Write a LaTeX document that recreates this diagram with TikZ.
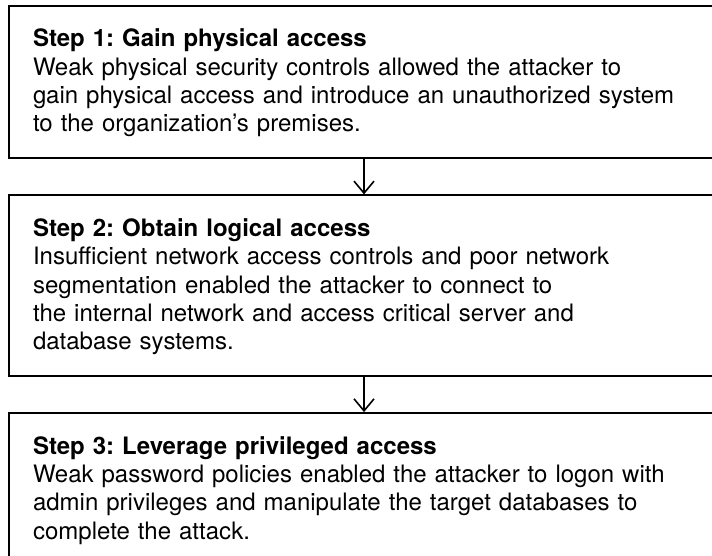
\documentclass[tikz,border=0pt]{standalone}
\usepackage{fontspec}
\setmainfont{TeX Gyre Heros}
\usetikzlibrary{positioning,arrows.meta}
\frenchspacing

\newcommand{\headgap}{\rule{0pt}{41pt}}
\newcommand{\footgap}{\rule[-26pt]{0pt}{26pt}}

\begin{document}
\begin{tikzpicture}[->, >={Straight Barb[length=12pt,width=20pt]}, node distance=35.5pt,
  stepbox/.style={rectangle, draw, line width=2pt, text width=662pt, inner xsep=23.7pt,
    inner ysep=0pt, align=left, font=\fontsize{24}{28.3}\selectfont}]

  \useasboundingbox (0,0) rectangle (712pt,-556pt);
  \clip (0,0) rectangle (712pt,-556pt);

  \node[stepbox, anchor=north west] (step1) at (8.3pt,-5pt)
    {\headgap\textbf{Step 1: Gain physical access}\\
     Weak physical security controls allowed the attacker to\\
     gain physical access and introduce an unauthorized system\\
     to the organization’s premises.\footgap};
  \node[stepbox] (step2) [below=of step1]
    {\headgap\textbf{Step 2: Obtain logical access}\\
     Insufficient network access controls and poor network\\
     segmentation enabled the attacker to connect to\\
     the internal network and access critical server and\\
     database systems.\footgap};
  \node[stepbox] (step3) [below=of step2]
    {\headgap\textbf{Step 3: Leverage privileged access}\\
     Weak password policies enabled the attacker to logon with\\
     admin privileges and manipulate the target databases to\\
     complete the attack.\footgap};

  \path (step1) edge [line width=1.6pt] (step2)
        (step2) edge [line width=1.6pt] (step3);

\end{tikzpicture}
\end{document}
